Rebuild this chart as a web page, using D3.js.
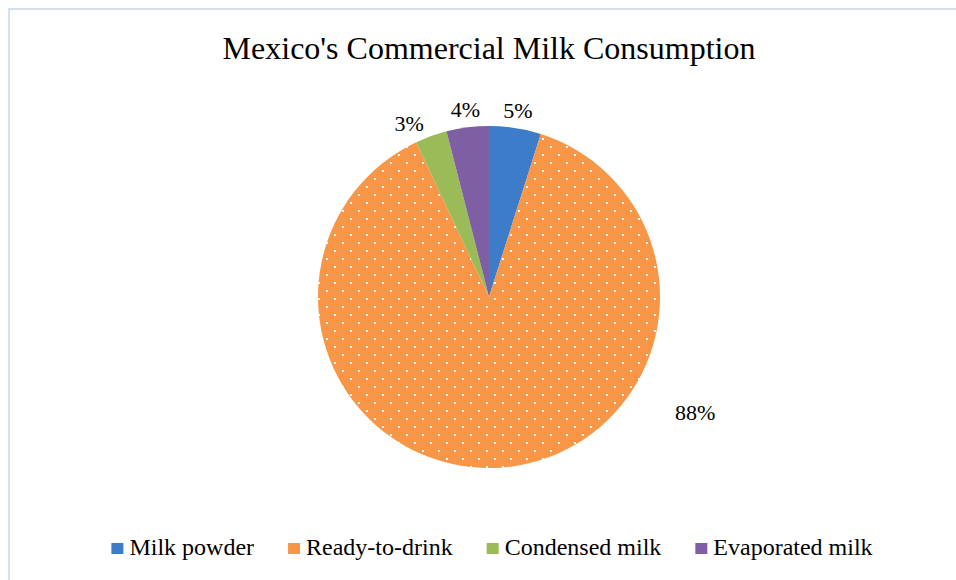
<!DOCTYPE html>
<html>
<head>
<meta charset="utf-8">
<script src="https://cdn.jsdelivr.net/npm/d3@7"></script>
<style>
  body { margin: 0; background: #fff; }
  svg text { font-family: 'Liberation Serif', 'Times New Roman', serif; fill: #000; }
</style>
</head>
<body>
<svg width="956" height="580"></svg>
<script>
var categories = ['Milk powder', 'Ready-to-drink', 'Condensed milk', 'Evaporated milk'],
    shares     = [4.9, 88.1, 3.0, 4.0],
    colors     = ['#3D7CC9', '#F79646', '#9BBB59', '#7F5FA4'],
    title      = "Mexico's Commercial Milk Consumption";

var width  = 956,
    height = 580,
    cx     = 489,
    cy     = 297,
    radius = 171,
    serif  = "'Liberation Serif', 'Times New Roman', serif",
    svg    = d3.select('svg');

// dotted fill used by Excel for the orange slice
var defs = svg.append('defs');
var pat = defs.append('pattern')
    .attr('id', 'dots')
    .attr('patternUnits', 'userSpaceOnUse')
    .attr('width', 16).attr('height', 16);
pat.append('rect').attr('width', 16).attr('height', 16).attr('fill', colors[1]);
pat.append('rect').attr('x', 5).attr('y', 1).attr('width', 2).attr('height', 2).attr('fill', '#fff');
pat.append('rect').attr('x', 13).attr('y', 9).attr('width', 2).attr('height', 2).attr('fill', '#fff');

function fillFor(i) { return i === 1 ? 'url(#dots)' : colors[i]; }

// chart area border (only top/left visible)
svg.append('path')
    .attr('d', 'M9,' + height + 'V9H' + width)
    .attr('fill', 'none')
    .attr('stroke', '#D6E0EF')
    .attr('stroke-width', 2);

svg.append('text')
    .attr('x', cx)
    .attr('y', 59)
    .attr('text-anchor', 'middle')
    .attr('font-family', serif)
    .attr('font-size', 32)
    .text(title);

var pie = d3.pie().sort(null).value(function(d) { return d; });
var arcs = pie(shares);

var arc = d3.arc().innerRadius(0).outerRadius(radius);

var g = svg.append('g').attr('transform', 'translate(' + cx + ',' + cy + ')');

g.selectAll('path.slice')
    .data(arcs)
    .enter()
    .append('path')
    .attr('class', 'slice')
    .attr('d', arc)
    .attr('fill', function(d, i) { return fillFor(i); });

// data labels, placed outside like Excel's best fit
var fmt = function(v) { return Math.round(v) + '%'; };

g.selectAll('text.label')
    .data(arcs)
    .enter()
    .append('text')
    .attr('class', 'label')
    .attr('font-family', serif)
    .attr('font-size', 22)
    .attr('text-anchor', 'middle')
    .attr('dy', '0.35em')
    .text(function(d) { return fmt(d.data); })
    .each(function(d) {
        var big = (d.endAngle - d.startAngle) > Math.PI,
            a   = big ? d.startAngle + (d.endAngle - d.startAngle) * 0.32 : (d.startAngle + d.endAngle) / 2,
            r   = big ? radius * 1.38 : radius + 18,
            w   = this.getComputedTextLength(),
            x   = Math.sin(a) * r,
            y   = -Math.cos(a) * r;
        // push labels on the steeper side a bit further out
        if (Math.abs(Math.sin(a)) > 0.25 && !big) { x += Math.sin(a) * w * 1.6; y += 4; }
        d3.select(this).attr('x', x).attr('y', y);
    });

// legend
var legend = svg.append('g');
var items = legend.selectAll('g.item')
    .data(categories)
    .enter()
    .append('g')
    .attr('class', 'item');

items.append('rect')
    .attr('width', 12).attr('height', 11)
    .attr('y', -12)
    .attr('fill', function(d, i) { return fillFor(i); });

items.append('text')
    .attr('x', 18)
    .attr('font-family', serif)
    .attr('font-size', 24)
    .text(function(d) { return d; });

var xpos = 0, gap = 34;
items.each(function() {
    var w = this.getBBox().width;
    d3.select(this).attr('transform', 'translate(' + xpos + ',0)');
    xpos += w + gap;
});
var total = xpos - gap;
legend.attr('transform', 'translate(' + (cx + 3 - total / 2) + ',555)');
</script>
</body>
</html>
